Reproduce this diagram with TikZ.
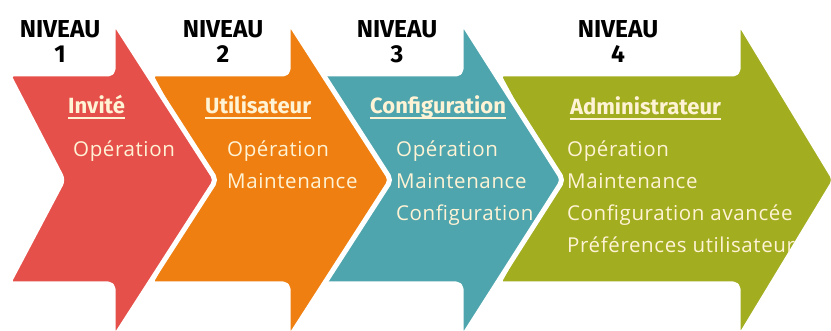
\documentclass[tikz,border=0pt]{standalone}
\usepackage{fontspec}
\setmainfont{Open Sans}[LetterSpace=3]
\newfontfamily\headfont{Fira Sans}
\newfontfamily\nivfont{Fira Sans}
\definecolor{cred}{HTML}{E5504A}
\definecolor{corange}{HTML}{EF7F10}
\definecolor{cteal}{HTML}{4EA5AD}
\definecolor{cgreen}{HTML}{A2AD1F}
\definecolor{ccream}{HTML}{FFF3D6}
\tikzset{
  arrowshape/.style={draw=white, line width=5pt, rounded corners=5pt, line join=round},
  niv/.style={inner sep=0pt, anchor=base, text=black, font=\nivfont\bfseries\fontsize{24.5}{25}\selectfont},
  headtxt/.style={inner sep=0pt, anchor=base west, text=ccream, font=\headfont\bfseries\fontsize{22}{25}\selectfont},
  bodytxt/.style={inner sep=0pt, anchor=base west, text=ccream, font=\fontsize{20.5}{32}\selectfont},
  uline/.style={draw=ccream, line width=1.5pt}
}
\begin{document}
\begin{tikzpicture}[x=1pt, y=-1pt]
\useasboundingbox (0,0) rectangle (831,331);
% arrows, drawn from last to first so each one lies over the next
\path[arrowshape, fill=cgreen] (498,74) -- (738,74) -- (738,20) -- (835,180) -- (738,340) -- (738,284) -- (498,284) -- (555,180) -- cycle;
\path[arrowshape, fill=cteal] (320,74) -- (461,74) -- (461,20) -- (563,180) -- (461,340) -- (461,284) -- (320,284) -- (377,180) -- cycle;
\path[arrowshape, fill=corange] (150,74) -- (288,74) -- (288,20) -- (391,180) -- (288,340) -- (288,284) -- (150,284) -- (207,180) -- cycle;
\path[arrowshape, fill=cred] (8,74) -- (113,74) -- (113,20) -- (216,180) -- (113,340) -- (113,284) -- (8,284) -- (63,180) -- cycle;
% level labels
\node[niv] (n1a) at (60,38) {NIVEAU};
\node[niv] (n1b) at (60,63) {1};
\node[niv] (n2a) at (223,38) {NIVEAU};
\node[niv] (n2b) at (223,63) {2};
\node[niv] (n3a) at (397,38) {NIVEAU};
\node[niv] (n3b) at (397,63) {3};
\node[niv] (n4a) at (618,38) {NIVEAU};
\node[niv] (n4b) at (618,63) {4};
% headings
\node[headtxt] (h1) at (68,114) {Invité};
\node[headtxt] (h2) at (205,114) {Utilisateur};
\node[headtxt] (h3) at (370,114) {Configuration};
\node[headtxt] (h4) at (570,115) {Administrateur};
\foreach \h in {h1,h2,h3,h4}
  \draw[uline] ([yshift=-4pt]\h.base west) -- ([yshift=-4pt]\h.base east);
% body texts
\node[bodytxt] (r1) at (73,157) {Opération};
\node[bodytxt] (o1) at (227,157) {Opération};
\node[bodytxt] (o2) at (227,189) {Maintenance};
\node[bodytxt] (t1) at (396,157) {Opération};
\node[bodytxt] (t2) at (396,189) {Maintenance};
\node[bodytxt] (t3) at (396,221) {Configuration};
\node[bodytxt] (g1) at (567,157) {Opération};
\node[bodytxt] (g2) at (567,189) {Maintenance};
\node[bodytxt] (g3) at (567,221) {Configuration avancée};
\node[bodytxt] (g4) at (567,253) {Préférences utilisateur};
\end{tikzpicture}
\end{document}
